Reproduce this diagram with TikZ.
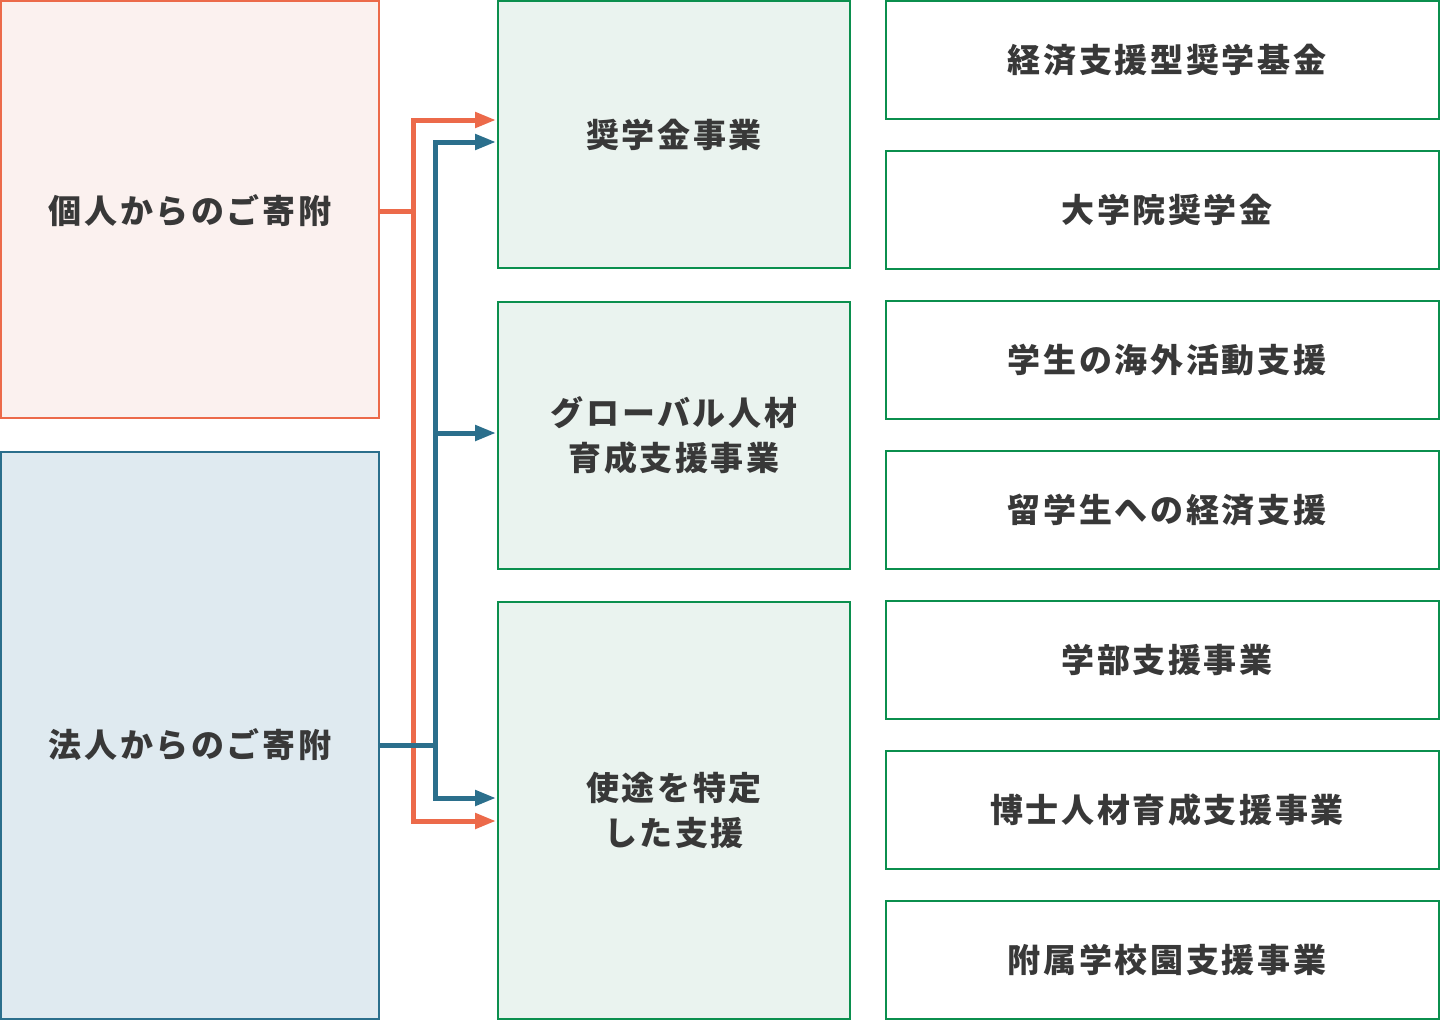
\documentclass[tikz,border=0pt]{standalone}
\usepackage{fontspec}
\setmainfont{Noto Sans CJK JP}[LetterSpace=8]
\usetikzlibrary{arrows.meta,calc}
\definecolor{orln}{HTML}{EC6A4A}
\definecolor{orbg}{HTML}{FBF1EF}
\definecolor{blln}{HTML}{2B6F8C}
\definecolor{blbg}{HTML}{DFEAF0}
\definecolor{grln}{HTML}{0B8F4E}
\definecolor{grbg}{HTML}{EAF3EF}
\definecolor{txt}{HTML}{383838}

\begin{document}
\begin{tikzpicture}[x=1pt,y=-1pt,
  box/.style={draw, line width=2pt, anchor=north west, inner sep=0pt, outer sep=0pt,
    text=txt, font=\fontsize{33}{45}\selectfont\bfseries, align=center},
  srcbox/.style={box, minimum width=378pt},
  midbox/.style={box, draw=grln, fill=grbg, minimum width=352pt},
  subbox/.style={box, draw=grln, fill=white, minimum width=553pt, minimum height=118pt},
  lbl/.style={text=txt, font=\fontsize{33}{45}\selectfont\bfseries, inner sep=0pt},
  orline/.style={draw=orln, line width=5pt, -{Triangle[length=21pt,width=15pt]}, shorten >=2pt},
  blline/.style={draw=blln, line width=5pt, -{Triangle[length=21pt,width=15pt]}, shorten >=2pt}]
\useasboundingbox (0,0) rectangle (1440,1020);

% Donors
\node[srcbox, draw=orln, fill=orbg, minimum height=417pt] (ind) at (1,1) {};
\node[lbl] (indLbl) at (190,211) {個人からのご寄附};
\node[srcbox, draw=blln, fill=blbg, minimum height=567pt] (corp) at (1,452) {};
\node[lbl] (corpLbl) at (190,745) {法人からのご寄附};

% Programs
\node[midbox, minimum height=267pt] (sch) at (498,1) {奨学金事業};
\node[midbox, minimum height=267pt] (glb) at (498,302) {グローバル人材\\育成支援事業};
\node[midbox, minimum height=417pt] (spc) at (498,602) {使途を特定\\した支援};

% Details
\foreach \n/\t [count=\i from 0] in {d1/経済支援型奨学基金,d2/大学院奨学金,d3/学生の海外活動支援,
    d4/留学生への経済支援,d5/学部支援事業,d6/博士人材育成支援事業,d7/附属学校園支援事業}{
  \node[subbox] (\n) at (886,{1+150*\i}) {};
  \node[lbl] (\n Lbl) at (1167,{60+150*\i}) {\t};
}

% Connectors
\coordinate (oJ) at (413,211);
\coordinate (bJ) at (435,745);
\draw[orln, line width=5pt] (ind.east |- indLbl) -- (oJ);
\draw[orline] (oJ) |- ($(sch.west)+(0,-14.5)$);
\draw[orline] (oJ) |- ($(spc.west)+(0,10.5)$);
\draw[blln, line width=5pt] (corp.east |- corpLbl) -- (bJ);
\draw[blline] (bJ) |- ($(sch.west)+(0,7.5)$);
\draw[blline] (bJ) |- ($(glb.west)+(0,-2.5)$);
\draw[blline] (bJ) |- ($(spc.west)+(0,-12.5)$);
\end{tikzpicture}
\end{document}
